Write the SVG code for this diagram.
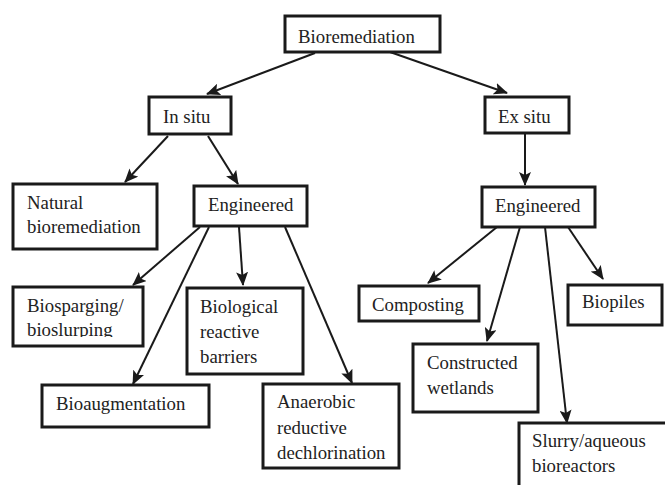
<svg xmlns="http://www.w3.org/2000/svg" width="665" height="485" viewBox="0 0 665 485">
<style>
.box{fill:#fff;stroke:#1a1a1a;stroke-width:3}
.t{font-family:"Liberation Serif","Times New Roman",serif;font-size:18.8px;fill:#222}
.c{stroke:#1a1a1a;stroke-width:2;fill:none;marker-end:url(#ah)}
</style>
<defs>
<marker id="ah" markerUnits="userSpaceOnUse" markerWidth="14" markerHeight="12" viewBox="0 0 14 12" refX="13" refY="6" orient="auto">
<path d="M0,0 L14,6 L0,12 L3,6 Z" fill="#1a1a1a"/>
</marker>
<clipPath id="clipBs"><rect x="13" y="287" width="130" height="50"/></clipPath>
</defs>
<rect width="665" height="485" fill="#fff"/>
<g id="connectors">
<line class="c" x1="315" y1="53" x2="207" y2="94"/>
<line class="c" x1="390" y1="52" x2="507" y2="93"/>
<line class="c" x1="168" y1="136" x2="125" y2="182"/>
<line class="c" x1="208" y1="136" x2="238" y2="184"/>
<line class="c" x1="525" y1="134" x2="525" y2="185"/>
<line class="c" x1="200" y1="227" x2="133" y2="285"/>
<line class="c" x1="209" y1="227" x2="133" y2="384"/>
<line class="c" x1="239" y1="227" x2="243" y2="285"/>
<line class="c" x1="285" y1="227" x2="352" y2="383"/>
<line class="c" x1="497" y1="227" x2="428" y2="283"/>
<line class="c" x1="520" y1="227" x2="487" y2="341"/>
<line class="c" x1="545" y1="227" x2="567" y2="423"/>
<line class="c" x1="568" y1="227" x2="603" y2="279"/>
</g>
<g id="bioremediation"><rect class="box" x="285" y="16" width="155" height="36"/><text class="t" x="298" y="43">Bioremediation</text></g>
<g id="in-situ"><rect class="box" x="149" y="97" width="82" height="37"/><text class="t" x="163" y="123">In situ</text></g>
<g id="ex-situ"><rect class="box" x="485" y="97" width="84" height="36"/><text class="t" x="498" y="123">Ex situ</text></g>
<g id="natural"><rect class="box" x="13" y="184" width="144" height="65"/><text class="t" x="27" y="209">Natural</text><text class="t" x="27" y="233">bioremediation</text></g>
<g id="engineered-in"><rect class="box" x="194" y="186" width="113" height="40"/><text class="t" x="208" y="211">Engineered</text></g>
<g id="engineered-ex"><rect class="box" x="482" y="187" width="113" height="40"/><text class="t" x="495" y="212">Engineered</text></g>
<g id="biosparging"><rect class="box" x="13" y="287" width="130" height="59"/><g clip-path="url(#clipBs)"><text class="t" x="27" y="312">Biosparging/</text><text class="t" x="27" y="336">bioslurping</text></g></g>
<g id="biological"><rect class="box" x="187" y="288" width="116" height="86"/><text class="t" x="200" y="313">Biological</text><text class="t" x="200" y="338">reactive</text><text class="t" x="200" y="363">barriers</text></g>
<g id="bioaugmentation"><rect class="box" x="42" y="385" width="167" height="42"/><text class="t" x="56" y="410">Bioaugmentation</text></g>
<g id="anaerobic"><rect class="box" x="263" y="384" width="136" height="84"/><text class="t" x="277" y="408">Anaerobic</text><text class="t" x="277" y="434">reductive</text><text class="t" x="277" y="459">dechlorination</text></g>
<g id="composting"><rect class="box" x="359" y="286" width="120" height="35"/><text class="t" x="372" y="311">Composting</text></g>
<g id="biopiles"><rect class="box" x="568" y="285" width="94" height="40"/><text class="t" x="582" y="308">Biopiles</text></g>
<g id="constructed"><rect class="box" x="413" y="344" width="125" height="68"/><text class="t" x="427" y="369">Constructed</text><text class="t" x="427" y="394">wetlands</text></g>
<g id="slurry"><rect class="box" x="519" y="423" width="160" height="80"/><text class="t" x="532" y="447">Slurry/aqueous</text><text class="t" x="532" y="472">bioreactors</text></g>
</svg>
